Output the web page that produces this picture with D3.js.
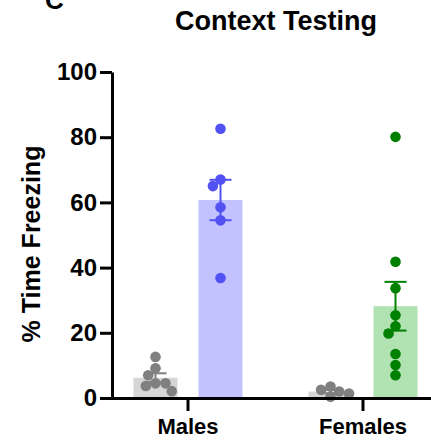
<!DOCTYPE html>
<html lang="en">
<head>
<meta charset="UTF-8">
<title>Context Testing</title>
<script src="https://cdn.jsdelivr.net/npm/d3@7"></script>
<style>
  body { margin: 0; background: #fff; }
  svg { display: block; font-family: "Liberation Sans", Arial, Helvetica, sans-serif; font-weight: bold; }
  .axis path, .axis line { stroke: #000; stroke-width: 3; }
  .axis text { font-size: 24px; font-weight: bold; fill: #000; }
  .xAxis text { font-size: 22px; }
</style>
</head>
<body>
<div id="root"></div>
<script>
  // data (% time freezing per animal)
  const groups = ["Males", "Females"]
  const conditions = ["control", "shock"]
  const malesControl = [12.6, 9.1, 7.0, 4.5, 3.7, 4.5, 2.1]
  const malesShock = [82.6, 67.0, 65.0, 58.5, 54.5, 36.8]
  const femalesControl = [1.4, 3.5, 2.0, 2.5, 0.4]
  const femalesShock = [80.1, 41.8, 33.7, 25.4, 22.0, 19.8, 13.5, 10.1, 7.0]
  const yTicks = [0, 20, 40, 60, 80, 100]

  const width = 431, height = 445
  const marginLeft = 112, plotTop = 72, plotBottom = 398

  const series = [
    { group: "Males", cond: "control", values: malesControl, dot: "#808080", bar: "#d6d6d6" },
    { group: "Males", cond: "shock", values: malesShock, dot: "#5252f2", bar: "#c2c2ff" },
    { group: "Females", cond: "control", values: femalesControl, dot: "#808080", bar: "#d6d6d6" },
    { group: "Females", cond: "shock", values: femalesShock, dot: "#008000", bar: "#b1e2b1" }
  ]

  const svg = d3.select("#root").append("svg").attr("width", width).attr("height", height)

  const yScale = d3.scaleLinear().domain([0, 100]).range([plotBottom, plotTop])
  const xScale = d3.scaleBand().domain(groups).range([100.5, 450.5])
  const subScale = d3.scalePoint().domain(conditions).range([-32.5, 32.5])
  const barW = 44, capW = 22, r = 5.3, gap = 10

  const cx = s => xScale(s.group) + xScale.bandwidth() / 2 + subScale(s.cond)

  // simple beeswarm: nearest free spot to the centre line
  const swarm = (vals) => {
    const placed = []
    const order = vals.map((v, i) => i).sort((a, b) => vals[b] - vals[a])
    const out = new Array(vals.length)
    order.forEach(i => {
      const y = yScale(vals[i])
      const cands = [0]
      placed.forEach(p => {
        const dy = Math.abs(p.y - y)
        if (dy < gap) {
          const dx = Math.sqrt(gap * gap - dy * dy)
          cands.push(p.x - dx, p.x + dx)
        }
      })
      cands.sort((a, b) => Math.abs(a) - Math.abs(b) || a - b)
      const x = cands.find(c => placed.every(p => Math.hypot(p.x - c, p.y - y) >= gap - 0.01))
      placed.push({ x, y })
      out[i] = { x, y }
    })
    return out
  }

  series.forEach(s => {
    const m = d3.mean(s.values)
    const sem = d3.deviation(s.values) / Math.sqrt(s.values.length)
    const x = cx(s)
    const g = svg.append("g")

    g.append("rect")
      .attr("x", x - barW / 2).attr("width", barW)
      .attr("y", yScale(m)).attr("height", plotBottom - yScale(m))
      .attr("fill", s.bar)

    swarm(s.values).forEach(p => {
      g.append("circle").attr("cx", x + p.x).attr("cy", p.y).attr("r", r).attr("fill", s.dot)
    })

    // error bar (mean ± SEM)
    const eb = g.append("g").attr("stroke", s.dot).attr("stroke-width", 2)
    eb.append("line").attr("x1", x).attr("x2", x).attr("y1", yScale(m - sem)).attr("y2", yScale(m + sem))
    ;[m - sem, m + sem].forEach(v => {
      eb.append("line").attr("x1", x - capW / 2).attr("x2", x + capW / 2).attr("y1", yScale(v)).attr("y2", yScale(v))
    })
  })

  svg.append("g").attr("class", "axis yAxis")
    .attr("transform", `translate(${marginLeft},0)`)
    .call(d3.axisLeft(yScale).tickValues(yTicks).tickSize(12).tickSizeOuter(0).tickPadding(3))

  svg.append("g").attr("class", "axis xAxis")
    .attr("transform", `translate(0,${plotBottom})`)
    .call(d3.axisBottom(xScale).tickSize(13).tickSizeOuter(0).tickPadding(7))

  svg.append("text")
    .attr("transform", `translate(40,244) rotate(-90)`)
    .attr("text-anchor", "middle").attr("font-size", 25)
    .text("% Time Freezing")

  svg.append("text")
    .attr("x", 276).attr("y", 30).attr("text-anchor", "middle").attr("font-size", 27)
    .text("Context Testing")

  svg.append("text")
    .attr("x", 45).attr("y", 9).attr("font-size", 26)
    .text("C")
</script>
</body>
</html>
